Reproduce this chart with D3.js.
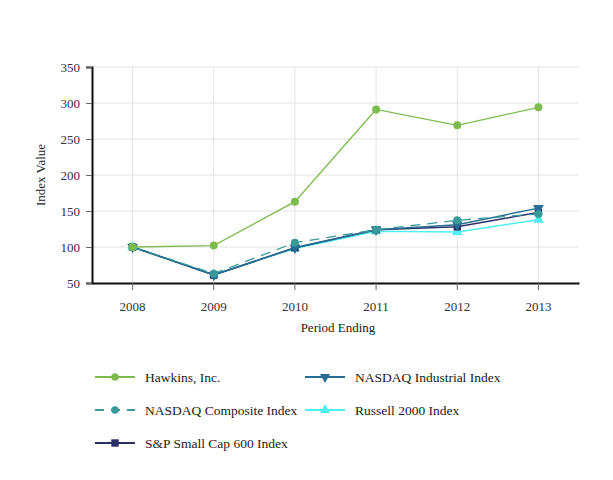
<!DOCTYPE html>
<html><head><meta charset="utf-8">
<script src="https://cdn.jsdelivr.net/npm/d3@7"></script>
<style>body{margin:0;background:#fff}svg{display:block}svg text{font-family:'Liberation Serif','Times New Roman',Times,serif !important;fill:#222}</style>
</head><body><svg id="c" width="613" height="480"></svg>
<script>
const years = ["2008","2009","2010","2011","2012","2013"];
const yTicks = [50,100,150,200,250,300,350];
const hawkins = [100,102,163,291,269,294];
const nasdaqComposite = [100,63,106,124,137,146];
const nasdaqIndustrial = [100,61,99,124,131,154];
const russell2000 = [100,62,98,122,121,138];
const sp600 = [100,61,99,124,128,148];

const series = [
  {name:"Hawkins, Inc.", values:hawkins, color:"#7dbb4f", dash:null, sym:d3.symbolCircle, rot:0, w:1.3},
  {name:"NASDAQ Composite Index", values:nasdaqComposite, color:"#3a9999", dash:"10,7", sym:d3.symbolCircle, rot:0, w:1.3},
  {name:"S&P Small Cap 600 Index", values:sp600, color:"#2b2f66", dash:null, sym:d3.symbolSquare, rot:0, w:1.5},
  {name:"NASDAQ Industrial Index", values:nasdaqIndustrial, color:"#266e93", dash:null, sym:d3.symbolTriangle, rot:180, w:1.5},
  {name:"Russell 2000 Index", values:russell2000, color:"#4ff0f0", dash:null, sym:d3.symbolTriangle, rot:0, w:1.5}
];
const drawOrder = [4,2,3,1,0];
const FONT = "'Liberation Serif','Times New Roman',Times,serif";

const svg = d3.select("#c").style("font-family", FONT);
const L=92, R=579, T=67, B=283;
const x = d3.scaleBand().domain(years).range([L,R]).padding(0);
const cx = d => x(d)+x.bandwidth()/2;
const y = d3.scaleLinear().domain([50,350]).range([B,T]);

// grid
svg.append("g").selectAll("line").data(yTicks).join("line")
  .attr("x1",L).attr("x2",R).attr("y1",d=>y(d)).attr("y2",d=>y(d))
  .attr("stroke","#e3e3e3").attr("stroke-width",1);
svg.append("g").selectAll("line").data(years).join("line")
  .attr("x1",cx).attr("x2",cx).attr("y1",T).attr("y2",B)
  .attr("stroke","#e3e3e3").attr("stroke-width",1);

// axes
const ya = svg.append("g").attr("transform",`translate(${L},0)`)
  .call(d3.axisLeft(y).tickValues(yTicks).tickSize(6).tickPadding(6));
ya.attr("font-family", FONT);
ya.select(".domain").attr("stroke","#111").attr("stroke-width",2);
ya.selectAll(".tick line").attr("stroke","#666");
ya.selectAll("text").attr("font-size",13).style("font-family",FONT).style("fill","#333");

const xa = svg.append("g").attr("transform",`translate(0,${B})`)
  .call(d3.axisBottom(x).tickSize(7).tickPadding(12).tickSizeOuter(0));
xa.attr("font-family", FONT);
xa.select(".domain").attr("stroke","#111").attr("stroke-width",2);
xa.selectAll(".tick line").attr("stroke","#666");
xa.selectAll("text").attr("font-size",13).style("font-family",FONT).style("fill","#333");

svg.append("text").attr("transform","translate(45,175) rotate(-90)").attr("text-anchor","middle")
  .attr("font-size",13).style("font-family",FONT).text("Index Value");
svg.append("text").attr("x",338).attr("y",332).attr("text-anchor","middle")
  .attr("font-size",13).style("font-family",FONT).text("Period Ending");

const line = d3.line().x((d,i)=>cx(years[i])).y(d=>y(d));
drawOrder.forEach(k=>{
  const s = series[k];
  const g = svg.append("g");
  g.append("path").attr("d",line(s.values)).attr("fill","none")
    .attr("stroke",s.color).attr("stroke-width",s.w).attr("stroke-dasharray",s.dash);
  g.selectAll("path.m").data(s.values).join("path").attr("class","m")
    .attr("d",d3.symbol().type(s.sym).size(s.sym===d3.symbolSquare?55:50))
    .attr("transform",(d,i)=>`translate(${cx(years[i])},${y(d)}) rotate(${s.rot})`)
    .attr("fill",s.color);
});

// legend
const legPos = [[95,377],[95,410],[95,443],[305,377],[305,410]];
series.forEach((s,i)=>{
  const [lx,ly] = legPos[i];
  const g = svg.append("g");
  g.append("line").attr("x1",lx).attr("x2",lx+40).attr("y1",ly).attr("y2",ly)
    .attr("stroke",s.color).attr("stroke-width",s.w+0.5).attr("stroke-dasharray",s.dash?"9,7":null);
  g.append("path").attr("d",d3.symbol().type(s.sym).size(s.sym===d3.symbolSquare?55:45))
    .attr("transform",`translate(${lx+20},${ly}) rotate(${s.rot})`).attr("fill",s.color);
  g.append("text").attr("x",lx+50).attr("y",ly+4.5).attr("font-size",13.5).style("font-family",FONT).text(s.name);
});
</script></body></html>
